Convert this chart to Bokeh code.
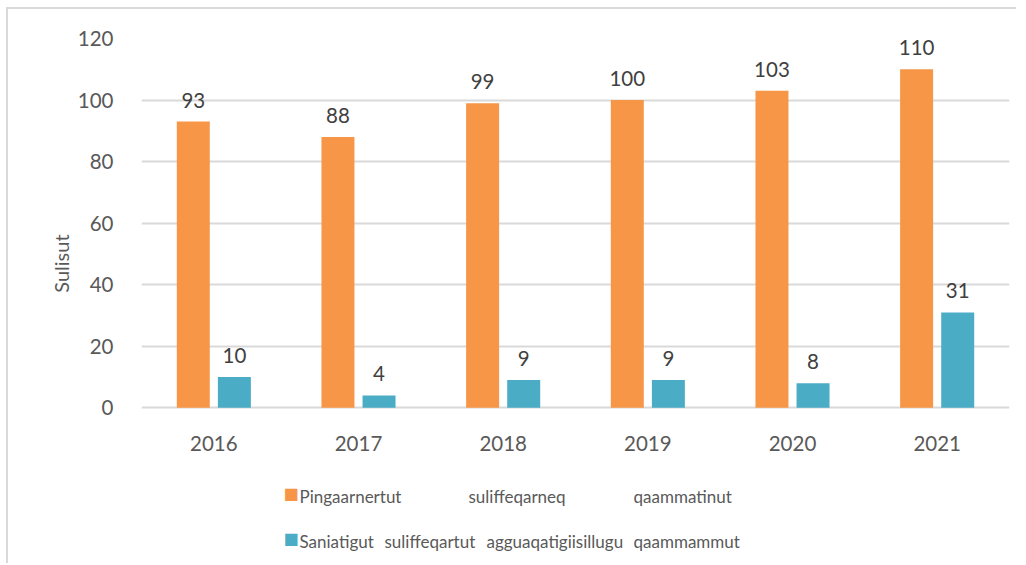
from bokeh.plotting import figure
from bokeh.models import FactorRange, Range1d, FixedTicker, ColumnDataSource
from bokeh.transform import dodge
from bokeh.embed import file_html
from bokeh.resources import INLINE
from bokeh.core.properties import value

# ---- data ----
years = ["2016", "2017", "2018", "2019", "2020", "2021"]
main_jobs = [93, 88, 99, 100, 103, 110]
side_jobs = [10, 4, 9, 9, 8, 31]
series_names = ["Pingaarnertut suliffeqarneq qaammatinut",
                "Saniatigut suliffeqartut agguaqatigiisillugu qaammammut"]
y_ticks = [0, 20, 40, 60, 80, 100, 120]
y_title = "Sulisut"

# ---- style ----
ORANGE = "#F79646"
TEAL = "#4BACC6"
GRID = "#d9d9d9"
TXT = "#595959"
LBL = "#404040"
FONT = "Lato"

OX, OY = 8, 9            # page position of the canvas
W, H = 1010, 556
FL, FT, FW = 133, 29, 868
ZERO_PX = 398.3          # canvas y of value 0
PPU = (ZERO_PX - FT) / 120.0
y_start = -(H - ZERO_PX) / PPU

p = figure(x_range=FactorRange(*years), y_range=Range1d(y_start, 120),
           width=W, height=H, output_backend="svg", toolbar_location=None,
           min_border_left=FL, min_border_top=FT,
           min_border_right=W - FL - FW, min_border_bottom=0)
p.styles = {"margin-left": "6px", "margin-top": "7px",
            "border-top": "2px solid #d9d9d9", "border-left": "2px solid #d9d9d9"}
p.outline_line_color = None
p.background_fill_color = "white"
p.border_fill_color = "white"
p.x_range.range_padding = 0
p.x_range.group_padding = 0

src = ColumnDataSource(dict(year=years, a=main_jobs, b=side_jobs,
                            ta=[str(v) for v in main_jobs],
                            tb=[str(v) for v in side_jobs]))

OFF = 0.142
BW = 0.228
p.vbar(x=dodge("year", -OFF, range=p.x_range), top="a", width=BW, source=src,
       fill_color=ORANGE, line_color=None)
p.vbar(x=dodge("year", OFF, range=p.x_range), top="b", width=BW, source=src,
       fill_color=TEAL, line_color=None)

for key, off in (("a", -OFF), ("b", OFF)):
    p.text(x=dodge("year", off, range=p.x_range), y=key, text="t" + key, source=src,
           text_align="center", text_baseline="bottom", y_offset=-14,
           text_font=value(FONT), text_font_size="20.5px", text_color=LBL)

# axes
p.yaxis.ticker = FixedTicker(ticks=y_ticks)
p.xaxis.fixed_location = 0
for ax in (p.xaxis[0], p.yaxis[0]):
    ax.axis_line_color = None
    ax.major_tick_line_color = None
    ax.minor_tick_line_color = None
    ax.major_label_text_font = FONT
    ax.major_label_text_font_size = "20.5px"
    ax.major_label_text_color = TXT
p.yaxis.major_label_standoff = 22
p.xaxis.major_label_standoff = 22
p.yaxis.axis_label = "\u00A0" * 15 + y_title
p.yaxis.axis_label_text_font = FONT
p.yaxis.axis_label_text_font_size = "20px"
p.yaxis.axis_label_text_font_style = "normal"
p.yaxis.axis_label_text_color = TXT
p.yaxis.axis_label_standoff = 2
p.xgrid.grid_line_color = None
p.ygrid.grid_line_color = GRID
p.ygrid.grid_line_width = 2

# ---- manual legend (justified words), laid out in page pixels ----
cat_w = FW / len(years)
anchor_px = OX + FL + cat_w / 2          # page x of first category centre

def dy(py):
    return (ZERO_PX - (py - OY)) / PPU

rows = [(ORANGE, 496, [299, 468, 633]), (TEAL, 541, [299, 384, 486, 633])]
wx, wy, wt, wo = [], [], [], []
sx_, sy_, sc_, so_ = [], [], [], []
for (color, ypx, xs), name in zip(rows, series_names):
    sx_.append(years[0]); sy_.append(dy(ypx - 3)); sc_.append(color); so_.append(283 - anchor_px)
    for word, xpx in zip(name.split(" "), xs):
        wx.append(years[0]); wy.append(dy(ypx)); wt.append(word); wo.append(xpx - anchor_px)

p.text(x="x", y="y", text="t", x_offset="o",
       source=ColumnDataSource(dict(x=wx, y=wy, t=wt, o=wo)),
       text_align="left", text_baseline="middle",
       text_font=value(FONT), text_font_size="17px", text_color=TXT)
p.text(x="x", y="y", text=value("\u25A0"), x_offset="o", text_color="c",
       source=ColumnDataSource(dict(x=sx_, y=sy_, c=sc_, o=so_)),
       text_align="left", text_baseline="middle",
       text_font=value("DejaVu Sans"), text_font_size="16px")

open("out.html", "w").write(file_html(p, INLINE))
